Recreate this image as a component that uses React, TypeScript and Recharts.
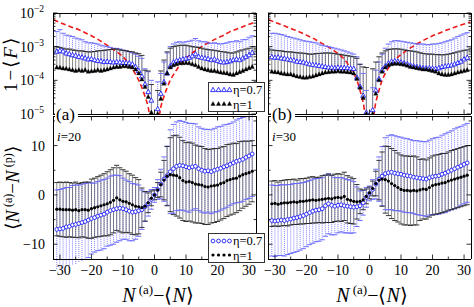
import React from 'react';
import { ComposedChart, Scatter, Line, XAxis, YAxis, ErrorBar } from 'recharts';

const FONT = '"Liberation Serif", "Times New Roman", serif';
const BLUE = '#1414ff';
const BLUE_BAR = '#8080ff';
const BLUE_CAP = '#6262ff';
const BLACK_BAR = '#555555';
const RED = '#ee1a1a';

// ---------- abscissa and tick lists ----------
const X_POS = [-31,-30,-29,-28,-27,-26,-25,-24,-23,-22,-21,-20,-19,-18,-17,-16,-15,-14,-13,-12,-11,-10,-9,-8,-7,-6,-5,-4,-3,-2,-1,0,1,2,3,4,5,6,7,8,9,10,11,12,13,14,15,16,17,18,19,20,21,22,23,24,25,26,27,28,29,30,31];
const X_TICKS = [-30,-25,-20,-15,-10,-5,0,5,10,15,20,25,30];
const LOG_TICKS = [1e-5,2e-5,3e-5,4e-5,5e-5,6e-5,7e-5,8e-5,9e-5,1e-4,2e-4,3e-4,4e-4,5e-4,6e-4,7e-4,8e-4,9e-4,1e-3,2e-3,3e-3,4e-3,5e-3,6e-3,7e-3,8e-3,9e-3,1e-2];
const LIN_TICKS = [-10,-5,0,5,10,15];

// ---------- top panels: 1-<F> ----------
// (a) i=20, eta=0.7
const INF_A_ETA07 = [7.1e-4,7.6e-4,7.2e-4,6.3e-4,6.0e-4,5.6e-4,5.4e-4,5.0e-4,4.8e-4,4.5e-4,4.2e-4,
  4.3e-4,4.0e-4,3.8e-4,3.7e-4,3.5e-4,3.6e-4,3.5e-4,3.4e-4,3.5e-4,3.4e-4,
  3.3e-4,3.3e-4,3.2e-4,3.0e-4,2.5e-4,1.9e-4,1.3e-4,7.6e-5,4.5e-5,2.5e-5,
  null,
  1.4e-5,4.0e-5,8.9e-5,1.6e-4,2.6e-4,3.4e-4,3.8e-4,4.0e-4,4.2e-4,4.4e-4,
  4.7e-4,5.2e-4,6.0e-4,5.0e-4,4.7e-4,4.5e-4,4.3e-4,4.0e-4,4.2e-4,3.8e-4,
  3.5e-4,3.4e-4,3.5e-4,3.7e-4,4.0e-4,4.2e-4,4.0e-4,4.5e-4,5.0e-4,5.6e-4,6.6e-4];
const INF_A_ETA07_UP = [2.8e-3,3.2e-3,2.5e-3,2.2e-3,2.1e-3,2.0e-3,1.8e-3,1.7e-3,1.6e-3,1.4e-3,1.3e-3,
  1.3e-3,1.25e-3,1.2e-3,1.1e-3,1.05e-3,1.0e-3,9.5e-4,8.9e-4,8.9e-4,8.5e-4,
  7.9e-4,7.6e-4,7.1e-4,6.6e-4,6.0e-4,5.2e-4,4.5e-4,2.2e-4,1.8e-4,1.0e-4,
  null,
  9.0e-5,1.6e-4,3.5e-4,6.5e-4,1.0e-3,1.2e-3,1.35e-3,1.4e-3,1.3e-3,1.4e-3,
  1.45e-3,1.55e-3,1.75e-3,1.5e-3,1.4e-3,1.4e-3,1.3e-3,1.25e-3,1.3e-3,1.25e-3,
  1.2e-3,1.25e-3,1.3e-3,1.4e-3,1.4e-3,1.5e-3,1.4e-3,1.6e-3,1.65e-3,1.9e-3,2.1e-3];
// (a) i=20, eta=1
const INF_A_ETA1 = [2.4e-4,2.35e-4,2.25e-4,2.2e-4,2.1e-4,2.0e-4,1.9e-4,2.0e-4,1.9e-4,2.0e-4,1.8e-4,
  1.85e-4,1.9e-4,2.0e-4,1.9e-4,2.0e-4,2.1e-4,2.25e-4,2.4e-4,2.5e-4,2.5e-4,
  2.6e-4,2.6e-4,2.5e-4,2.4e-4,2.1e-4,1.6e-4,1.05e-4,6.3e-5,3.2e-5,1.1e-5,
  null,
  1.0e-5,2.8e-5,7.9e-5,1.6e-4,2.4e-4,2.8e-4,3.0e-4,3.2e-4,3.2e-4,3.3e-4,
  3.2e-4,3.0e-4,2.8e-4,2.5e-4,2.25e-4,2.1e-4,2.0e-4,1.9e-4,1.9e-4,1.8e-4,
  1.7e-4,1.65e-4,1.6e-4,1.5e-4,1.45e-4,1.6e-4,1.75e-4,1.9e-4,2.1e-4,2.3e-4,2.5e-4];
const INF_A_ETA1_UP = [1.0e-3,9.5e-4,9.0e-4,8.5e-4,8.5e-4,8.0e-4,7.8e-4,7.5e-4,7.5e-4,7.2e-4,7.0e-4,
  7.0e-4,7.2e-4,7.5e-4,7.6e-4,7.8e-4,8.0e-4,8.2e-4,8.5e-4,8.5e-4,8.0e-4,
  7.8e-4,7.5e-4,7.2e-4,7.0e-4,6.5e-4,6.2e-4,5.5e-4,2.0e-4,1.9e-4,7.5e-5,
  null,
  5.0e-5,1.9e-4,4.0e-4,7.0e-4,9.0e-4,1.0e-3,1.05e-3,1.1e-3,1.1e-3,1.1e-3,
  1.05e-3,1.0e-3,9.8e-4,9.5e-4,9.0e-4,8.5e-4,8.2e-4,8.0e-4,7.8e-4,7.5e-4,
  7.2e-4,7.0e-4,6.8e-4,6.5e-4,6.5e-4,7.0e-4,7.5e-4,8.0e-4,8.5e-4,9.0e-4,1.0e-3];
// (b) i=30, eta=0.7
const INF_B_ETA07 = [4.9e-4,4.7e-4,4.8e-4,4.5e-4,4.4e-4,4.2e-4,4.0e-4,3.9e-4,3.6e-4,3.5e-4,3.4e-4,
  3.2e-4,3.0e-4,2.9e-4,2.8e-4,2.7e-4,2.6e-4,2.5e-4,2.4e-4,2.4e-4,2.3e-4,
  2.4e-4,2.3e-4,2.35e-4,2.3e-4,2.25e-4,2.2e-4,1.2e-4,6.5e-5,3.5e-5,1.1e-5,
  null,
  1.3e-5,5.0e-5,1.1e-4,2.0e-4,2.6e-4,3.2e-4,3.6e-4,3.7e-4,3.6e-4,3.4e-4,
  3.2e-4,3.0e-4,2.8e-4,2.6e-4,2.5e-4,2.4e-4,2.3e-4,2.3e-4,2.3e-4,2.25e-4,
  2.2e-4,2.3e-4,2.5e-4,2.6e-4,2.7e-4,2.8e-4,3.0e-4,3.3e-4,3.6e-4,4.2e-4,4.7e-4];
const INF_B_ETA07_UP = [2.5e-3,2.5e-3,2.4e-3,2.3e-3,2.2e-3,2.0e-3,1.9e-3,1.8e-3,1.7e-3,1.6e-3,1.5e-3,
  1.45e-3,1.4e-3,1.35e-3,1.3e-3,1.2e-3,1.1e-3,1.05e-3,1.0e-3,9.5e-4,9.0e-4,
  8.5e-4,8.0e-4,7.5e-4,7.0e-4,6.5e-4,6.0e-4,5.0e-4,3.0e-4,1.6e-4,5.0e-5,
  null,
  6.0e-5,2.0e-4,3.5e-4,6.0e-4,9.0e-4,1.2e-3,1.4e-3,1.5e-3,1.5e-3,1.45e-3,
  1.4e-3,1.35e-3,1.3e-3,1.25e-3,1.2e-3,1.2e-3,1.2e-3,1.15e-3,1.15e-3,1.2e-3,
  1.2e-3,1.25e-3,1.3e-3,1.4e-3,1.5e-3,1.6e-3,1.8e-3,2.0e-3,2.2e-3,2.4e-3,2.6e-3];
// (b) i=30, eta=1
const INF_B_ETA1 = [1.8e-4,1.75e-4,1.7e-4,1.6e-4,1.55e-4,1.5e-4,1.5e-4,1.4e-4,1.3e-4,1.25e-4,1.2e-4,
  1.2e-4,1.25e-4,1.3e-4,1.4e-4,1.5e-4,1.6e-4,1.7e-4,1.75e-4,1.8e-4,1.8e-4,
  1.85e-4,1.8e-4,1.8e-4,1.75e-4,1.7e-4,1.6e-4,1.1e-4,6.0e-5,3.0e-5,1.0e-5,
  null,
  1.0e-5,4.0e-5,1.0e-4,1.8e-4,2.4e-4,2.8e-4,3.0e-4,3.1e-4,3.1e-4,3.0e-4,
  2.9e-4,2.7e-4,2.5e-4,2.4e-4,2.3e-4,2.2e-4,2.1e-4,2.1e-4,2.0e-4,1.9e-4,
  1.8e-4,1.6e-4,1.5e-4,1.45e-4,1.45e-4,1.5e-4,1.6e-4,1.7e-4,1.8e-4,1.9e-4,2.0e-4];
const INF_B_ETA1_UP = [8.0e-4,7.8e-4,7.6e-4,7.5e-4,7.2e-4,7.0e-4,7.0e-4,6.8e-4,6.6e-4,6.5e-4,6.4e-4,
  6.2e-4,6.0e-4,6.0e-4,6.2e-4,6.3e-4,6.4e-4,6.5e-4,6.5e-4,6.4e-4,6.2e-4,
  6.0e-4,5.8e-4,5.6e-4,5.4e-4,5.2e-4,5.0e-4,4.5e-4,3.0e-4,2.5e-4,2.4e-4,
  null,
  2.2e-4,3.5e-4,5.0e-4,6.5e-4,7.5e-4,8.2e-4,8.5e-4,8.6e-4,8.6e-4,8.4e-4,
  8.0e-4,7.7e-4,7.5e-4,7.3e-4,7.0e-4,6.6e-4,6.3e-4,6.1e-4,6.0e-4,6.0e-4,
  5.8e-4,5.8e-4,5.7e-4,5.8e-4,6.0e-4,6.3e-4,6.6e-4,7.0e-4,7.4e-4,7.8e-4,8.0e-4];
// red dashed reference curves
const RED_X = [-32,-30,-28,-26,-24,-22,-20,-18,-16,-14,-12,-10,-8,-6,-5,-4,-3,-2,-1,1,2,3,4,5,6,8,10,12,14,16,18,20,22,24,26,28,30,32];
const RED_A = [6.3e-3,5.2e-3,4.4e-3,3.7e-3,3.2e-3,2.6e-3,2.1e-3,1.65e-3,1.26e-3,9.5e-4,7.1e-4,5.0e-4,3.0e-4,1.5e-4,1.0e-4,6.0e-5,3.3e-5,1.6e-5,5e-6,
  5e-6,1.6e-5,3.3e-5,6.0e-5,1.0e-4,1.45e-4,2.8e-4,4.5e-4,6.5e-4,8.8e-4,1.15e-3,1.45e-3,1.8e-3,2.2e-3,2.8e-3,3.3e-3,3.9e-3,4.6e-3,5.5e-3];
const RED_B = [6.3e-3,5.3e-3,4.5e-3,3.8e-3,3.2e-3,2.7e-3,2.2e-3,1.8e-3,1.4e-3,1.1e-3,8.5e-4,6.2e-4,4.2e-4,2.3e-4,1.6e-4,1.0e-4,5.0e-5,2.2e-5,7e-6,
  7e-6,2.2e-5,5.0e-5,1.0e-4,1.6e-4,2.3e-4,4.0e-4,5.8e-4,8.0e-4,1.05e-3,1.35e-3,1.7e-3,2.1e-3,2.5e-3,3.0e-3,3.5e-3,4.1e-3,4.7e-3,5.4e-3];

// ---------- bottom panels: <N(a)-N(p)> ----------
const DN_A_ETA07 = [-7.0,-6.9,-6.8,-6.5,-6.4,-6.1,-6.0,-5.8,-5.6,-5.4,-5.1,
  -4.8,-4.6,-4.3,-4.1,-3.9,-3.5,-3.2,-3.0,-2.8,-2.7,
  -2.8,-3.0,-3.3,-3.5,-3.4,-3.2,-3.0,-2.4,-1.8,-0.9,
  0.0,
  1.1,2.2,3.2,3.9,4.7,5.3,5.8,6.0,5.9,5.7,
  5.5,5.7,5.8,5.3,5.0,4.8,4.9,4.7,5.0,5.2,
  5.4,5.7,5.9,6.2,6.5,6.8,7.0,7.2,7.6,7.9,8.3];
const DN_A_ETA07_ERR = [8,8,8.1,8,7.9,8,8,7.8,7.8,7.7,7.6,
  7.2,7,7,7.1,7,6.9,7,7,6.8,6.6,
  6.2,6,6,5.8,5.6,5.2,4,3,2.5,2,
  1.5,
  2,3,4.5,6,8.5,9,9,9.1,9,9,
  9,8.8,8.6,8.5,8.5,8.5,8.4,8.5,8.5,8.6,
  8.5,8.5,8.4,8.3,8.3,8.4,8.5,8.5,8.5,8.6,8.6];
const DN_A_ETA1 = [-2.9,-2.9,-3.0,-3.0,-3.0,-3.1,-3.0,-3.2,-3.0,-3.0,-3.1,
  -2.8,-2.6,-2.4,-2.2,-2.0,-1.8,-1.5,-1.1,-0.6,-1.0,
  -1.3,-1.4,-1.7,-2.0,-2.3,-2.4,-2.6,-2.3,-1.6,-0.7,
  0.0,
  1.0,2.1,3.0,3.8,4.1,4.0,3.9,3.5,2.9,2.6,
  2.7,2.5,2.2,2.1,2.0,1.7,1.6,1.8,1.9,2.0,
  2.3,2.5,2.9,3.1,3.3,3.4,3.8,4.1,4.3,4.5,4.8];
const DN_A_ETA1_ERR = [5.4,5.5,5.5,5.6,5.5,5.5,5.6,5.5,5.5,5.6,5.7,
  6,6,6.1,6.2,6.3,6.5,6.6,6.6,6.6,6.5,
  6.4,6.2,6,6,5.8,5.5,4,3,2,1.5,
  1,
  1.5,2.5,4,6,7.5,8,8.2,8.2,8.1,8,
  8,8,7.9,7.8,7.8,7.7,7.6,7.5,7.5,7.4,
  7.4,7.3,7.3,7.2,7.2,7,7,6.8,6.6,6.4,6.2];
const DN_B_ETA07 = [-5.2,-5.3,-5.2,-5.1,-5.2,-5.0,-4.9,-4.7,-4.6,-4.4,-4.2,
  -3.9,-3.6,-3.3,-3.1,-3.0,-2.8,-2.2,-1.8,-2.1,-2.3,
  -2.1,-2.0,-2.2,-2.3,-2.4,-2.5,-2.4,-2.2,-1.6,-0.5,
  0.3,
  1.1,2.2,3.2,3.8,4.3,4.5,4.6,4.4,4.3,4.2,
  4.0,3.9,3.8,3.6,3.5,3.4,3.3,3.2,3.5,3.7,
  3.8,3.9,4.2,4.4,4.7,5.0,5.3,5.6,5.9,6.2,6.5];
const DN_B_ETA07_ERR = [7.2,7.2,7.1,7.2,7.2,7.1,7,7,6.9,6.8,6.7,
  6.6,6.5,6.5,6.4,6.4,6.3,6.2,6.1,6,5.8,
  5.6,5.5,5.5,5.4,5.4,5.2,4,3,2.5,2,
  1.5,
  2,3,4.5,6,7.3,7.5,7.6,7.6,7.5,7.5,
  7.5,7.5,7.4,7.4,7.5,7.5,7.5,7.6,7.6,7.7,
  7.8,7.8,7.9,8,8,8,8.1,8.1,8,8,8];
const DN_B_ETA1 = [-1.8,-1.7,-1.9,-1.7,-1.6,-1.6,-1.5,-1.4,-1.5,-1.3,-1.3,
  -1.2,-1.1,-1.0,-1.1,-1.0,-0.9,-0.8,-0.7,-0.8,-0.6,
  -0.5,-0.6,-0.3,-0.9,-1.1,-1.3,-1.4,-1.3,-1.0,-0.3,
  0.4,
  1.3,2.3,3.0,3.2,3.1,2.8,2.3,1.9,1.5,1.1,
  0.9,0.9,0.8,0.9,0.8,1.0,1.2,1.1,1.5,1.9,
  2.1,2.2,2.4,2.5,2.8,3.0,3.2,3.4,3.6,3.8,4.0];
const DN_B_ETA1_ERR = [4.6,4.6,4.5,4.6,4.6,4.7,4.6,4.6,4.5,4.6,4.6,
  4.6,4.7,4.7,4.6,4.6,4.8,4.8,4.9,4.8,4.8,
  4.8,4.8,4.9,4.8,4.7,4.6,3.5,2.5,2,1.5,
  1.2,
  1.5,2.5,4,5.5,6.8,7,7.1,7.1,7,7,
  7,7,7,7,6.9,6.2,6.1,6,6,6,
  6,6,6,5.9,5.9,6,6,6,6,6,6];

// ---------- table builders ----------
type Row = { x: number; y: number; e?: number | number[] };
const logRows = (vals: (number | null)[], ups: (number | null)[]): Row[] =>
  X_POS.flatMap((x, i) => (vals[i] == null || ups[i] == null ? [] : [{ x, y: vals[i] as number, e: [0, (ups[i] as number) - (vals[i] as number)] }]));
const logCaps = (ups: (number | null)[]): Row[] =>
  X_POS.flatMap((x, i) => (ups[i] == null ? [] : [{ x, y: ups[i] as number }]));
const linRows = (vals: number[], errs: number[]): Row[] => X_POS.map((x, i) => ({ x, y: vals[i], e: errs[i] }));
const linCaps = (vals: number[], errs: number[]): Row[] => [
  ...X_POS.map((x, i) => ({ x, y: vals[i] + errs[i] })),
  ...X_POS.map((x, i) => ({ x, y: vals[i] - errs[i] })),
];
const curveRows = (xs: number[], ys: number[]) => xs.map((x, i) => ({ x, y: ys[i] }));

// ---------- shapes ----------
const TriOpen = ({ cx, cy }: any) => (
  <polygon points={`${cx},${cy - 2.7} ${cx - 2.4},${cy + 1.6} ${cx + 2.4},${cy + 1.6}`} fill="#fff" stroke={BLUE} strokeWidth={0.85} />
);
const TriFill = ({ cx, cy }: any) => (
  <polygon points={`${cx},${cy - 2.6} ${cx - 2.2},${cy + 1.5} ${cx + 2.2},${cy + 1.5}`} fill="#000" stroke="#000" strokeWidth={0.3} />
);
const CircOpen = ({ cx, cy }: any) => <circle cx={cx} cy={cy} r={1.9} fill="#fff" stroke={BLUE} strokeWidth={0.85} />;
const CircFill = ({ cx, cy }: any) => <circle cx={cx} cy={cy} r={1.6} fill="#000" />;
const makeCap = (color: string) => ({ cx, cy }: any) => (
  <line x1={cx - 2.6} x2={cx + 2.6} y1={cy} y2={cy} stroke={color} strokeWidth={0.9} />
);
const BlueCap = makeCap(BLUE_CAP);
const BlackCap = makeCap('#222');
const NoShape = () => <g />;

// ---------- ticks ----------
const isMajorLin = (v: number) => Math.abs(v % 10) < 1e-9;
const isMajorLog = (v: number) => {
  const l = Math.log10(v);
  return Math.abs(l - Math.round(l)) < 1e-6;
};
const fmt = (v: number) => (v < 0 ? `\u2212${Math.abs(v)}` : `${v}`);

const XTick = (props: any) => {
  const { x, y, payload, side, showLabel } = props;
  const major = isMajorLin(payload.value);
  const len = major ? 4.5 : 2.5;
  const dir = side === 'bottom' ? -1 : 1;
  return (
    <g>
      <line x1={x} x2={x} y1={y} y2={y + dir * len} stroke="#000" strokeWidth={0.8} />
      {showLabel && major && (
        <text x={x} y={y + 16} textAnchor="middle" fontFamily={FONT} fontSize={14} fill="#000">
          {fmt(payload.value)}
        </text>
      )}
    </g>
  );
};

const YTick = (props: any) => {
  const { x, y, payload, side, showLabel, log } = props;
  const v = payload.value as number;
  const major = log ? isMajorLog(v) : isMajorLin(v);
  const len = major ? 4.5 : 2.5;
  const dir = side === 'left' ? 1 : -1;
  let label: React.ReactNode = null;
  if (showLabel && major) {
    if (log) {
      const ex = Math.round(Math.log10(v));
      label = (
        <text x={x - 9} y={y + 5} textAnchor="end" fontFamily={FONT} fontSize={14} fill="#000">
          <tspan>10</tspan>
          <tspan dy={-6} fontSize={9.5}>{fmt(ex)}</tspan>
        </text>
      );
    } else {
      label = (
        <text x={x - 8} y={y + 5} textAnchor="end" fontFamily={FONT} fontSize={14} fill="#000">
          {fmt(v)}
        </text>
      );
    }
  }
  return (
    <g>
      <line x1={x} x2={x + dir * len} y1={y} y2={y} stroke="#000" strokeWidth={0.8} />
      {label}
    </g>
  );
};

// ---------- panel ----------
type PanelProps = {
  plotLeft: number; plotTop: number; plotW: number; plotH: number;
  lw: number; th: number; rw: number; bh: number;
  log: boolean; yDomain: [number, number]; yTicks: number[];
  xLabels: boolean; yLabels: boolean;
  blueRows: Row[]; blueCaps: Row[]; blackRows: Row[]; blackCaps: Row[];
  red?: { x: number; y: number }[];
  BlueMark: any; BlackMark: any;
};

const X_DOMAIN: [number, number] = [-32.2, 32.2];

function Panel(p: PanelProps) {
  const w = p.lw + p.plotW + p.rw;
  const h = p.th + p.plotH + p.bh;
  const scale = p.log ? 'log' : 'linear';
  const axisLine = { stroke: '#000', strokeWidth: 1, shapeRendering: 'crispEdges' };
  return (
    <div style={{ position: 'absolute', left: p.plotLeft - p.lw, top: p.plotTop - p.th }}>
      <ComposedChart width={w} height={h} margin={{ top: 0, right: 0, bottom: 0, left: 0 }}>
        <XAxis xAxisId={0} dataKey="x" type="number" domain={X_DOMAIN} ticks={X_TICKS} interval={0} allowDataOverflow
          orientation="bottom" height={p.bh} tickSize={0} tickMargin={0} tickLine={false} stroke="#000" axisLine={axisLine}
          tick={(t: any) => <XTick {...t} side="bottom" showLabel={p.xLabels} />} />
        <XAxis xAxisId="t" dataKey="x" type="number" domain={X_DOMAIN} ticks={X_TICKS} interval={0} allowDataOverflow
          orientation="top" height={p.th} tickSize={0} tickMargin={0} tickLine={false} stroke="#000" axisLine={axisLine}
          tick={(t: any) => <XTick {...t} side="top" showLabel={false} />} />
        <YAxis yAxisId={0} type="number" scale={scale} domain={p.yDomain} ticks={p.yTicks} interval={0} allowDataOverflow
          orientation="left" width={p.lw} tickSize={0} tickMargin={0} tickLine={false} stroke="#000" axisLine={axisLine}
          tick={(t: any) => <YTick {...t} side="left" log={p.log} showLabel={p.yLabels} />} />
        <YAxis yAxisId="r" type="number" scale={scale} domain={p.yDomain} ticks={p.yTicks} interval={0} allowDataOverflow
          orientation="right" width={p.rw} tickSize={0} tickMargin={0} tickLine={false} stroke="#000" axisLine={axisLine}
          tick={(t: any) => <YTick {...t} side="right" log={p.log} showLabel={false} />} />

        <Scatter data={p.blueRows} dataKey="y" shape={NoShape} isAnimationActive={false}>
          <ErrorBar dataKey="e" direction="y" width={0} stroke={BLUE_BAR} strokeWidth={1} strokeDasharray="1 1" isAnimationActive={false} />
        </Scatter>
        <Scatter data={p.blueCaps} dataKey="y" shape={BlueCap} isAnimationActive={false} />
        <Scatter data={p.blackRows} dataKey="y" shape={NoShape} isAnimationActive={false}>
          <ErrorBar dataKey="e" direction="y" width={0} stroke={BLACK_BAR} strokeWidth={0.7} isAnimationActive={false} />
        </Scatter>
        <Scatter data={p.blackCaps} dataKey="y" shape={BlackCap} isAnimationActive={false} />
        <Scatter data={p.blueRows} dataKey="y" shape={p.BlueMark} isAnimationActive={false} />
        <Scatter data={p.blackRows} dataKey="y" shape={p.BlackMark} isAnimationActive={false} />
        {p.red && (
          <Line data={p.red} dataKey="y" type="monotone" stroke={RED} strokeWidth={1.6} strokeDasharray="5 3"
            dot={false} activeDot={false} isAnimationActive={false} />
        )}
      </ComposedChart>
    </div>
  );
}

// ---------- overlay texts ----------
function Legend({ x, y, Mark }: { x: number; y: number; Mark: [any, any] }) {
  const [M1, M2] = Mark;
  const xs = [5, 10.5, 16, 21.5];
  return (
    <g>
      <rect x={x + 0.5} y={y + 0.5} width={56} height={29} fill="#fff" stroke="#333" strokeWidth={1} />
      {xs.map((d) => <M1 key={`a${d}`} cx={x + d} cy={y + 8} />)}
      {xs.map((d) => <M2 key={`b${d}`} cx={x + d} cy={y + 22} />)}
      <text x={x + 25} y={y + 12} fontFamily={FONT} fontSize={12.5} fill="#000">η=0.7</text>
      <text x={x + 25} y={y + 26.5} fontFamily={FONT} fontSize={12.5} fill="#000">η=1</text>
    </g>
  );
}

function Overlay() {
  const xLabel = (cx: number) => (
    <text x={cx} y={302} textAnchor="middle" fontFamily={FONT} fontSize={20} fill="#000">
      <tspan fontStyle="italic">N</tspan>
      <tspan dy={-8} fontSize={13}> (a)</tspan>
      <tspan dy={8}>−⟨</tspan>
      <tspan fontStyle="italic">N</tspan>
      <tspan>⟩</tspan>
    </text>
  );
  return (
    <svg width={474} height={307} style={{ position: 'absolute', left: 0, top: 0, pointerEvents: 'none' }}>
      <text transform="translate(17,64) rotate(-90)" textAnchor="middle" fontFamily={FONT} fontSize={19} letterSpacing={2} fill="#000">
        1−⟨<tspan fontStyle="italic">F</tspan>⟩
      </text>
      <text transform="translate(19,188) rotate(-90)" textAnchor="middle" fontFamily={FONT} fontSize={19} fill="#000">
        <tspan>⟨</tspan>
        <tspan fontStyle="italic">N</tspan>
        <tspan dy={-7} fontSize={12}> (a)</tspan>
        <tspan dy={7}>−</tspan>
        <tspan fontStyle="italic">N</tspan>
        <tspan dy={-7} fontSize={12}> (p)</tspan>
        <tspan dy={7}>⟩</tspan>
      </text>
      {xLabel(158)}
      {xLabel(372)}
      <rect x={55} y={107} width={23} height={15} fill="#fff" />
      <text x={56} y={120} fontFamily={FONT} fontSize={17} fill="#000">(a)</text>
      <rect x={271} y={107} width={24} height={15} fill="#fff" />
      <text x={272} y={120} fontFamily={FONT} fontSize={17} fill="#000">(b)</text>
      <text x={57} y={141} fontFamily={FONT} fontSize={13} fill="#000"><tspan fontStyle="italic">i</tspan>=20</text>
      <text x={272} y={141} fontFamily={FONT} fontSize={13} fill="#000"><tspan fontStyle="italic">i</tspan>=30</text>
      <Legend x={208} y={82} Mark={[TriOpen, TriFill]} />
      <Legend x={208} y={233} Mark={[CircOpen, CircFill]} />
    </svg>
  );
}

export default function App() {
  const common = { plotW: 203, rw: 3 };
  return (
    <div style={{ position: 'absolute', left: 0, top: 0, width: 474, height: 307, background: '#fff', overflow: 'hidden' }}>
      <Panel {...common} plotLeft={268} plotTop={13} plotH={101} lw={14} th={13} bh={10}
        log yDomain={[1e-5, 1e-2]} yTicks={LOG_TICKS} xLabels={false} yLabels={false}
        blueRows={logRows(INF_B_ETA07, INF_B_ETA07_UP)} blueCaps={logCaps(INF_B_ETA07_UP)}
        blackRows={logRows(INF_B_ETA1, INF_B_ETA1_UP)} blackCaps={logCaps(INF_B_ETA1_UP)}
        red={curveRows(RED_X, RED_B)} BlueMark={TriOpen} BlackMark={TriFill} />
      <Panel {...common} plotLeft={268} plotTop={116} plotH={143} lw={14} th={1} bh={48}
        log={false} yDomain={[-13, 16]} yTicks={LIN_TICKS} xLabels yLabels={false}
        blueRows={linRows(DN_B_ETA07, DN_B_ETA07_ERR)} blueCaps={linCaps(DN_B_ETA07, DN_B_ETA07_ERR)}
        blackRows={linRows(DN_B_ETA1, DN_B_ETA1_ERR)} blackCaps={linCaps(DN_B_ETA1, DN_B_ETA1_ERR)}
        BlueMark={CircOpen} BlackMark={CircFill} />
      <Panel {...common} plotLeft={53} plotTop={116} plotH={143} lw={53} th={1} bh={48}
        log={false} yDomain={[-13, 16]} yTicks={LIN_TICKS} xLabels yLabels
        blueRows={linRows(DN_A_ETA07, DN_A_ETA07_ERR)} blueCaps={linCaps(DN_A_ETA07, DN_A_ETA07_ERR)}
        blackRows={linRows(DN_A_ETA1, DN_A_ETA1_ERR)} blackCaps={linCaps(DN_A_ETA1, DN_A_ETA1_ERR)}
        BlueMark={CircOpen} BlackMark={CircFill} />
      <Panel {...common} plotLeft={53} plotTop={13} plotH={101} lw={53} th={13} bh={10}
        log yDomain={[1e-5, 1e-2]} yTicks={LOG_TICKS} xLabels={false} yLabels
        blueRows={logRows(INF_A_ETA07, INF_A_ETA07_UP)} blueCaps={logCaps(INF_A_ETA07_UP)}
        blackRows={logRows(INF_A_ETA1, INF_A_ETA1_UP)} blackCaps={logCaps(INF_A_ETA1_UP)}
        red={curveRows(RED_X, RED_A)} BlueMark={TriOpen} BlackMark={TriFill} />
      <Overlay />
    </div>
  );
}
